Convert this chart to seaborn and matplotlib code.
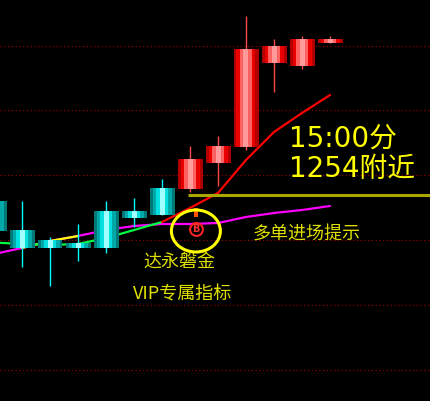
import matplotlib
matplotlib.use("Agg")
import matplotlib.pyplot as plt
import seaborn as sns
from matplotlib.patches import Ellipse

# candle data (index, price units)
idx = list(range(13))
opens = [1252.8, 1247.0, 1245.0, 1244.4, 1250.8, 1250.8, 1255.4,
         1255.2, 1260.4, 1263.6, 1280.4, 1279.8, 1284.4]
closes = [1246.8, 1243.4, 1243.4, 1243.4, 1243.4, 1249.4, 1250.0,
          1261.2, 1263.8, 1283.2, 1283.8, 1285.2, 1285.2]
highs = [1252.8, 1252.8, 1245.6, 1248.2, 1252.8, 1253.4, 1257.2,
         1263.8, 1265.8, 1289.8, 1285.2, 1285.8, 1285.8]
lows = [1246.8, 1239.6, 1235.8, 1240.8, 1242.4, 1247.6, 1250.0,
        1254.6, 1255.8, 1263.0, 1274.6, 1279.2, 1284.4]

# moving averages
ma_fast = [1244.5, 1244.2, 1244.0, 1244.2, 1245.4, 1247.0, 1248.6,
           1251.4, 1254.4, 1261.0, 1266.6, 1270.4, 1274.0]
ma_slow = [1242.2, 1243.4, 1244.8, 1245.8, 1247.0, 1247.8, 1248.2,
           1248.2, 1248.4, 1249.6, 1250.4, 1251.0, 1251.8]

grid_levels = [1283.8, 1271.0, 1258.0, 1245.0, 1232.0, 1219.0]
signal_level = 1254.0
signal_start = 6.93
buy_x = 7.21
buy_y = 1247.3

sns.set_theme(style="dark")
plt.rcParams['font.family'] = ['DejaVu Sans', 'Noto Sans CJK SC']

fig = plt.figure(figsize=(4.3, 4.01), dpi=100, facecolor='black')
ax = fig.add_axes([0, 0, 1, 1])
ax.set_facecolor('black')
ax.grid(False)

x0, x1 = 6 / 28, 436 / 28
# dotted dark red grid
ax.hlines(grid_levels, x0, x1, colors='#8a0000', linestyles=(0, (1, 2)), lw=0.9, zorder=1)

# MA lines (behind candles)
sns.lineplot(x=idx, y=ma_slow, color='#ff00ff', lw=1.6, ax=ax, zorder=2)
sns.lineplot(x=idx[1:4], y=ma_slow[1:4], color='#ffff00', lw=1.6, ax=ax, zorder=2)
sns.lineplot(x=idx[:7], y=ma_fast[:7], color='#00ff40', lw=1.6, ax=ax, zorder=2)
sns.lineplot(x=idx[6:], y=ma_fast[6:], color='#ff0000', lw=1.6, ax=ax, zorder=2)

# candles with striped shading
red_bands = ['#b00000', '#e80000', '#ff6060', '#ff9a9a']
cyan_bands = ['#007878', '#00a8a8', '#00e0e0', '#a0ffff']
widths = [25, 19, 12, 5]
for i, o, c, h, l in zip(idx, opens, closes, highs, lows):
    up = c >= o
    bands = red_bands if up else cyan_bands
    wick = '#ff4848' if up else '#00ffff'
    ax.vlines(i, l, h, colors=wick, lw=1.0, zorder=3)
    lo, hi = min(o, c), max(o, c)
    for w, col in zip(widths, bands):
        ax.bar(i, hi - lo, bottom=lo, width=w / 28, color=col, lw=0, zorder=4)

# signal level
ax.hlines(signal_level, signal_start, x1, colors='#a8a800', lw=2.2, zorder=2)

# buy marker
ax.bar(buy_x, 1.8, bottom=1249.6, width=4 / 28, color='#ff5000', lw=0, zorder=5)
ax.scatter([buy_x], [buy_y], s=85, facecolor='black', edgecolor='#ff2020', lw=1.5, zorder=6)
ax.text(buy_x, buy_y, 'B', color='#ff3030', fontsize=7, fontweight='bold',
        ha='center', va='center', zorder=7)
ax.add_patch(Ellipse((buy_x, 1246.8), 1.75, 8.4, fill=False, edgecolor='#ffff00', lw=2.2, zorder=6))

# texts
W, H = 430, 401
ax.text(289 / W, 1 - 147 / H, '15:00分', color='#ffff00', fontsize=20,
        transform=ax.transAxes, ha='left', va='baseline')
ax.text(289 / W, 1 - 177 / H, '1254附近', color='#ffff00', fontsize=20,
        transform=ax.transAxes, ha='left', va='baseline')
cjk = ['Noto Sans CJK SC', 'DejaVu Sans']
ax.text(253 / W, 1 - 235 / H, '多单进场提示', color='#e0e000', fontsize=13,
        family=cjk, transform=ax.transAxes, ha='left', va='center')
ax.text(143 / W, 1 - 262 / H, '达永磐金', color='#e0e000', fontsize=13,
        family=cjk, transform=ax.transAxes, ha='left', va='center')
ax.text(133 / W, 1 - 294 / H, 'VIP专属指标', color='#e0e000', fontsize=13,
        family=cjk, transform=ax.transAxes, ha='left', va='center')

ax.set_xlim(x0, x1)
ax.set_ylim(1212.8, 1293.0)
ax.set_xticks([])
ax.set_yticks([])
ax.set_xlabel('')
ax.set_ylabel('')
for s in ax.spines.values():
    s.set_visible(False)

fig.savefig('out.png', dpi=100, facecolor='black')
